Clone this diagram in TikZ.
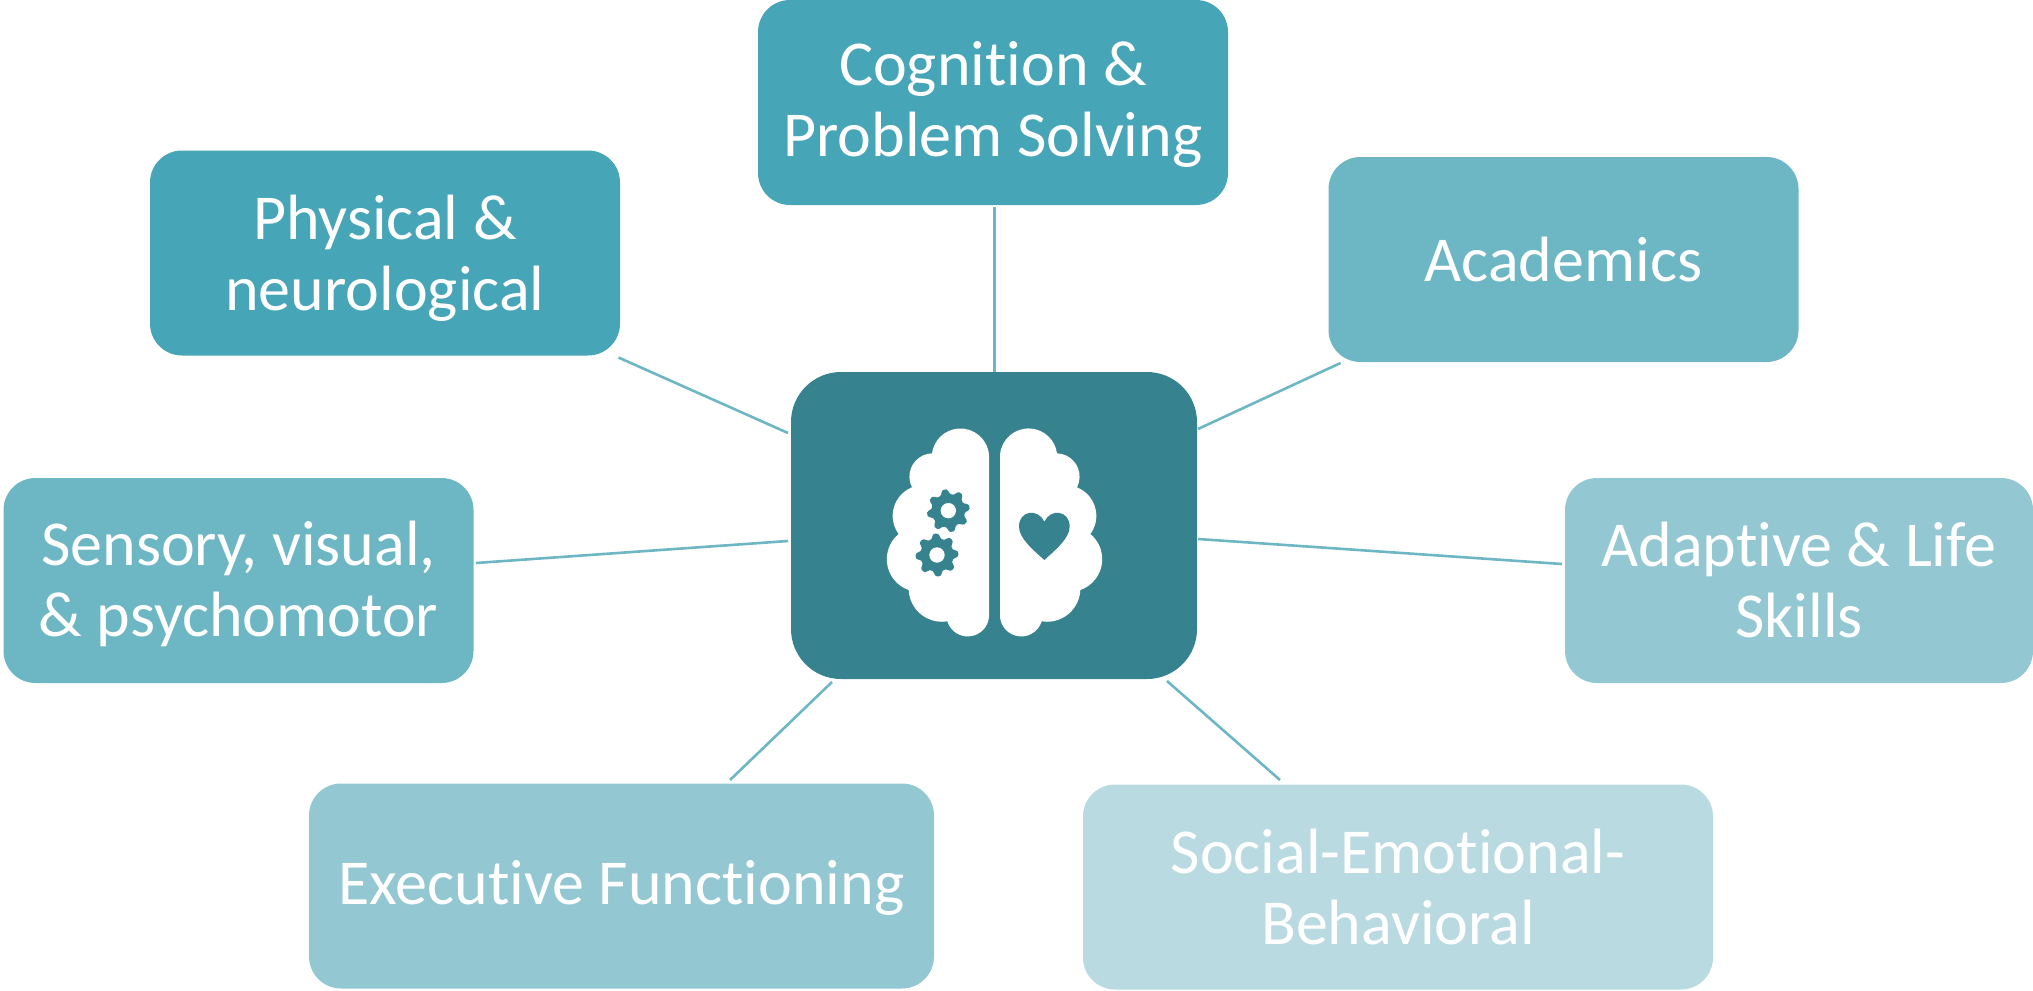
\documentclass[tikz,border=0pt]{standalone}
\usepackage{fontspec}
\setmainfont[Ligatures=NoCommon]{Carlito}
\usetikzlibrary{svg.path}
\definecolor{cA}{HTML}{46A5B6}
\definecolor{cB}{HTML}{6DB6C4}
\definecolor{cC}{HTML}{93C8D2}
\definecolor{cD}{HTML}{BADAE1}
\definecolor{cE}{HTML}{36838F}
\tikzset{
  box/.style={rectangle,rounded corners=32pt,inner sep=0pt,outer sep=0pt,minimum height=205pt,minimum width=470pt,align=center,text=white,font=\fontsize{64}{71}\selectfont},
  link/.style={draw=cB,line width=2.6pt}
}
\newcommand{\dn}[1]{\rule{0pt}{#1pt}}
\newcommand{\gearat}[3]{%
  \fill[cE] plot[smooth cycle,tension=0.3,samples at={0,5,...,355}] ({#1+(57+7*max(-1,min(1,1.5*cos(8*(\x+#3)))))*cos(\x)},{#2+(57+7*max(-1,min(1,1.5*cos(8*(\x+#3)))))*sin(\x)});
  \fill[white] (#1,#2) circle (23);
}
\begin{document}
\begin{tikzpicture}[x=1pt,y=-1pt]
\useasboundingbox (0,0) rectangle (2033,990);
\node[box,fill=cE,minimum width=406pt,minimum height=307pt,rounded corners=50pt] (ctr) at (994,525.5) {};
\node[box,fill=cA] (cog) at (993,102.5) {\dn{47}Cognition \&\\Problem Solving};
\node[box,fill=cA] (phys) at (385,253) {\dn{54}Physical \&\\neurological};
\node[box,fill=cB] (acad) at (1563.5,259.5) {Academics};
\node[box,fill=cB] (sens) at (238.5,580.5) {\dn{52}Sensory, visual,\\\& psychomotor};
\node[box,fill=cC,minimum width=468pt] (adap) at (1799,580.5) {Adaptive \& Life\\Skills};
\node[box,fill=cC,minimum width=625pt] (exec) at (621.5,886) {\dn{48}Executive Functioning};
\node[box,fill=cD,minimum width=630pt] (soc) at (1398,887) {Social-Emotional-\\Behavioral};
\draw[link] ([xshift=1.5pt,yshift=-2pt]cog.south) -- ([xshift=.5pt]ctr.north);
\draw[link] ([xshift=-1.5pt,yshift=-2pt]phys.south east) -- ([xshift=-3pt,yshift=-61pt]ctr.north west);
\draw[link] ([xshift=12pt,yshift=-1pt]acad.south west) -- ([xshift=1pt,yshift=-57pt]ctr.north east);
\draw[link] ([xshift=2.5pt,yshift=17.5pt]sens.east) -- ([xshift=-3pt,yshift=-15.5pt]ctr.west);
\draw[link] ([xshift=-3pt,yshift=16.5pt]adap.west) -- ([xshift=1pt,yshift=-13.5pt]ctr.east);
\draw[link] ([xshift=108.5pt,yshift=3.5pt]exec.north) -- ([xshift=-162pt,yshift=-3pt]ctr.south);
\draw[link] ([xshift=-118pt,yshift=4.5pt]soc.north) -- ([xshift=173pt,yshift=-2pt]ctr.south);
% brain icon, drawn in the coordinates of a 3x crop at (780,360)
\begin{scope}[shift={(780,360)},scale=1/3]
\begin{scope}[yscale=-1]
\fill[white] svg {M 627 770 L 627 285 A 86 86 0 0 0 456 280 A 70 70 0 0 0 396 382 A 92 92 0 0 0 356 522 A 98 98 0 0 0 386 690 A 100 100 0 0 0 502 784 A 64 64 0 0 0 627 770 Z};
\fill[white] svg {M 660 770 L 660 285 A 86 86 0 0 1 831 280 A 70 70 0 0 1 891 382 A 92 92 0 0 1 931 522 A 98 98 0 0 1 901 690 A 100 100 0 0 1 785 784 A 64 64 0 0 1 660 770 Z};
\fill[cE] svg {M 793 485 C 775 445 717 450 717 500 C 717 535 760 570 793 600 C 826 570 869 535 869 500 C 869 450 811 445 793 485 Z};
\end{scope}
\gearat{505}{452}{10}
\gearat{471}{585}{3}
\end{scope}
\end{tikzpicture}
\end{document}
